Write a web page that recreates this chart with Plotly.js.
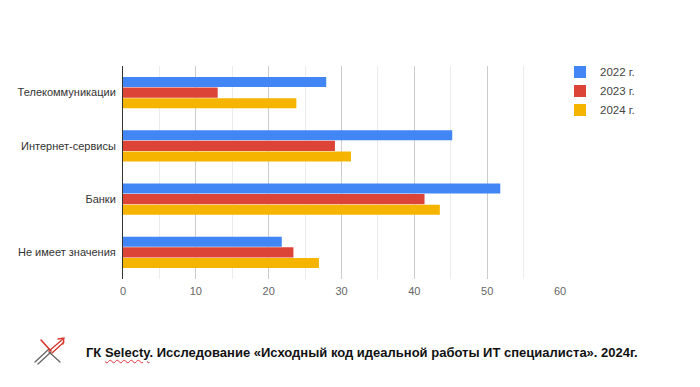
<!DOCTYPE html>
<html>
<head>
<meta charset="utf-8">
<script src="https://cdn.plot.ly/plotly-3.0.1.min.js"></script>
<style>
  html, body { margin: 0; padding: 0; background: #fff; }
  #wrap { position: relative; width: 700px; height: 387px; }
  #chart { position: absolute; left: 0; top: 0; width: 700px; height: 387px; }
  #logo { position: absolute; left: 33px; top: 337px; }
  #footer { position: absolute; left: 86px; top: 345px; font-family: "Liberation Sans", Arial, sans-serif;
            font-weight: bold; font-size: 13px; color: #111; white-space: nowrap; }
  #footer .sp { text-decoration: underline wavy #e0303a; text-decoration-thickness: 1px; text-underline-offset: 2px; }
</style>
</head>
<body>
<div id="wrap">
  <div id="chart"></div>
  <svg id="logo" width="34" height="28" viewBox="0 0 34 28">
    <g fill="none" stroke-linecap="round">
      <line x1="2" y1="25" x2="16" y2="12" stroke="#666" stroke-width="1.3"/>
      <line x1="5" y1="27" x2="18" y2="15" stroke="#666" stroke-width="1.3"/>
      <line x1="16" y1="15" x2="27" y2="25" stroke="#666" stroke-width="1.3"/>
      <line x1="8" y1="3" x2="18" y2="14" stroke="#d9352b" stroke-width="1.6"/>
      <line x1="16" y1="14" x2="30" y2="2" stroke="#d9352b" stroke-width="1.3"/>
      <line x1="19" y1="16" x2="31" y2="5" stroke="#d9352b" stroke-width="1.3"/>
      <polyline points="25,2 31,1 30,7" stroke="#d9352b" stroke-width="1.3"/>
    </g>
  </svg>
  <div id="footer">ГК <span class="sp">Selecty</span>. Исследование «Исходный код идеальной работы ИТ специалиста». 2024г.</div>
</div>
<script>
const categories = ["Телекоммуникации", "Интернет-сервисы", "Банки", "Не имеет значения"];
const seriesNames = ["2022 г.", "2023 г.", "2024 г."];
const values2022 = [27.9, 45.2, 51.8, 21.8];
const values2023 = [13.0, 29.1, 41.4, 23.4];
const values2024 = [23.8, 31.3, 43.5, 26.9];
const xTickValues = [0, 10, 20, 30, 40, 50, 60];

const colors = ["#4285F4", "#DB4437", "#F4B400"];
const allValues = [values2022, values2023, values2024];

const traces = allValues.map((vals, i) => ({
  type: "bar",
  orientation: "h",
  name: seriesNames[i],
  y: categories,
  x: vals,
  marker: { color: colors[i] },
  hoverinfo: "x+name"
}));

const layout = {
  width: 700,
  height: 387,
  margin: { l: 123, r: 140, t: 66, b: 108 },
  paper_bgcolor: "#fff",
  plot_bgcolor: "#fff",
  barmode: "group",
  bargap: 0.4,
  bargroupgap: 0.05,
  font: { family: "Liberation Sans, Arial, sans-serif", size: 11, color: "#444" },
  xaxis: {
    range: [0, 60],
    tickvals: xTickValues,
    ticktext: xTickValues.map(String),
    showgrid: true,
    gridcolor: "#cccccc",
    gridwidth: 1,
    zeroline: false,
    showline: false,
    ticks: "",
    ticklabelstandoff: 4,
    tickfont: { size: 11, color: "#666" },
    minor: { dtick: 5, showgrid: true, gridcolor: "#ececec", gridwidth: 1 },
    fixedrange: true
  },
  yaxis: {
    type: "category",
    autorange: "reversed",
    showline: true,
    linecolor: "#333",
    linewidth: 1,
    showgrid: false,
    zeroline: false,
    ticks: "",
    ticklabelstandoff: 4,
    tickfont: { size: 11, color: "#333" },
    fixedrange: true
  },
  showlegend: true,
  legend: {
    x: 1.0,
    xanchor: "left",
    y: 1.04,
    yanchor: "top",
    font: { size: 11.5, color: "#444" },
    bgcolor: "rgba(0,0,0,0)",
    tracegroupgap: 0,
    itemwidth: 30
  }
};

Plotly.newPlot("chart", traces, layout, { displayModeBar: false, staticPlot: true });
</script>
</body>
</html>
